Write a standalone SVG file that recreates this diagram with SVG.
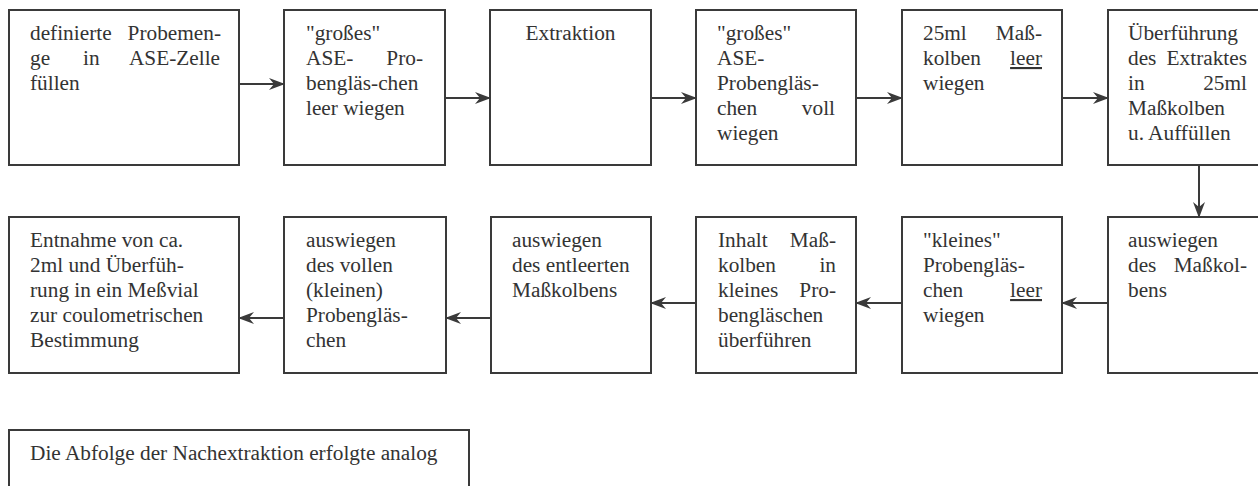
<svg xmlns="http://www.w3.org/2000/svg" width="1258" height="486" viewBox="0 0 1258 486">
<style>
.box{fill:#fff;stroke:#3a3a3a;stroke-width:2}
.t{font-family:"Liberation Serif","Times New Roman",serif;font-size:21.3px;fill:#333}
.e{text-anchor:end}
.m{text-anchor:middle}
.u{text-decoration:underline}
.c{stroke:#3a3a3a;stroke-width:2;fill:none;marker-end:url(#ah)}
</style>
<defs>
<marker id="ah" viewBox="0 0 16 12" refX="15" refY="6" markerWidth="16" markerHeight="12" markerUnits="userSpaceOnUse" orient="auto">
<path d="M0,0 L16,6 L0,12 L5,6 z" fill="#3a3a3a"/>
</marker>
</defs>
<rect width="1258" height="486" fill="#fff"/>

<g id="n1">
<rect class="box" x="9" y="10" width="230" height="155"/>
<text class="t" x="30" y="40">definierte</text><text class="t e" x="221" y="40">Probemen-</text>
<text class="t" x="30" y="65">ge</text><text class="t" x="83" y="65">in</text><text class="t e" x="220" y="65">ASE-Zelle</text>
<text class="t" x="30" y="90">füllen</text>
</g>
<g id="n2">
<rect class="box" x="284" y="10" width="161" height="155"/>
<text class="t" x="306" y="40">"großes"</text>
<text class="t" x="306" y="65">ASE-</text><text class="t e" x="423" y="65">Pro-</text>
<text class="t" x="306" y="90">bengläs-chen</text>
<text class="t" x="306" y="115">leer wiegen</text>
</g>
<g id="n3">
<rect class="box" x="490" y="10" width="161" height="155"/>
<text class="t m" x="570.5" y="40">Extraktion</text>
</g>
<g id="n4">
<rect class="box" x="696" y="10" width="160" height="155"/>
<text class="t" x="717" y="40">"großes"</text>
<text class="t" x="717" y="65">ASE-</text>
<text class="t" x="717" y="90">Probengläs-</text>
<text class="t" x="717" y="115">chen</text><text class="t e" x="835" y="115">voll</text>
<text class="t" x="717" y="140">wiegen</text>
</g>
<g id="n5">
<rect class="box" x="902" y="10" width="160" height="155"/>
<text class="t" x="923" y="40">25ml</text><text class="t e" x="1042" y="40">Maß-</text>
<text class="t" x="923" y="65">kolben</text><text class="t e u" x="1042" y="65">leer</text>
<text class="t" x="923" y="90">wiegen</text>
</g>
<g id="n6">
<rect class="box" x="1108" y="10" width="170" height="155"/>
<text class="t" x="1128" y="40">Überführung</text>
<text class="t" x="1128" y="65">des</text><text class="t e" x="1247" y="65">Extraktes</text>
<text class="t" x="1128" y="90">in</text><text class="t e" x="1247" y="90">25ml</text>
<text class="t" x="1128" y="115">Maßkolben</text>
<text class="t" x="1128" y="140">u. Auffüllen</text>
</g>

<g id="n7">
<rect class="box" x="1108" y="217" width="170" height="156"/>
<text class="t" x="1128" y="247">auswiegen</text>
<text class="t" x="1128" y="272">des</text><text class="t e" x="1247" y="272">Maßkol-</text>
<text class="t" x="1128" y="297">bens</text>
</g>
<g id="n8">
<rect class="box" x="902" y="217" width="160" height="156"/>
<text class="t" x="923" y="247">"kleines"</text>
<text class="t" x="923" y="272">Probengläs-</text>
<text class="t" x="923" y="297">chen</text><text class="t e u" x="1042" y="297">leer</text>
<text class="t" x="923" y="322">wiegen</text>
</g>
<g id="n9">
<rect class="box" x="696" y="217" width="160" height="156"/>
<text class="t" x="718" y="247">Inhalt</text><text class="t e" x="836" y="247">Maß-</text>
<text class="t" x="718" y="272">kolben</text><text class="t e" x="836" y="272">in</text>
<text class="t" x="718" y="297">kleines</text><text class="t e" x="836" y="297">Pro-</text>
<text class="t" x="718" y="322">bengläschen</text>
<text class="t" x="718" y="347">überführen</text>
</g>
<g id="n10">
<rect class="box" x="491" y="217" width="160" height="156"/>
<text class="t" x="512" y="247">auswiegen</text>
<text class="t" x="512" y="272">des entleerten</text>
<text class="t" x="512" y="297">Maßkolbens</text>
</g>
<g id="n11">
<rect class="box" x="284" y="217" width="162" height="156"/>
<text class="t" x="306" y="247">auswiegen</text>
<text class="t" x="306" y="272">des vollen</text>
<text class="t" x="306" y="297">(kleinen)</text>
<text class="t" x="306" y="322">Probengläs-</text>
<text class="t" x="306" y="347">chen</text>
</g>
<g id="n12">
<rect class="box" x="9" y="217" width="230" height="156"/>
<text class="t" x="30" y="247">Entnahme von ca.</text>
<text class="t" x="30" y="272">2ml und Überfüh-</text>
<text class="t" x="30" y="297">rung in ein Meßvial</text>
<text class="t" x="30" y="322">zur coulometrischen</text>
<text class="t" x="30" y="347">Bestimmung</text>
</g>
<g id="note">
<rect class="box" x="9" y="430" width="460" height="80"/>
<text class="t" x="30" y="460">Die Abfolge der Nachextraktion erfolgte analog</text>
</g>

<g id="connectors">
<line class="c" x1="239" y1="84" x2="284" y2="84"/>
<line class="c" x1="445" y1="98" x2="490" y2="98"/>
<line class="c" x1="651" y1="98" x2="696" y2="98"/>
<line class="c" x1="856" y1="98" x2="902" y2="98"/>
<line class="c" x1="1062" y1="98" x2="1108" y2="98"/>
<line class="c" x1="1199" y1="165" x2="1199" y2="217"/>
<line class="c" x1="1108" y1="303" x2="1062" y2="303"/>
<line class="c" x1="902" y1="303" x2="856" y2="303"/>
<line class="c" x1="696" y1="303" x2="651" y2="303"/>
<line class="c" x1="491" y1="318" x2="446" y2="318"/>
<line class="c" x1="284" y1="318" x2="239" y2="318"/>
</g>
</svg>
